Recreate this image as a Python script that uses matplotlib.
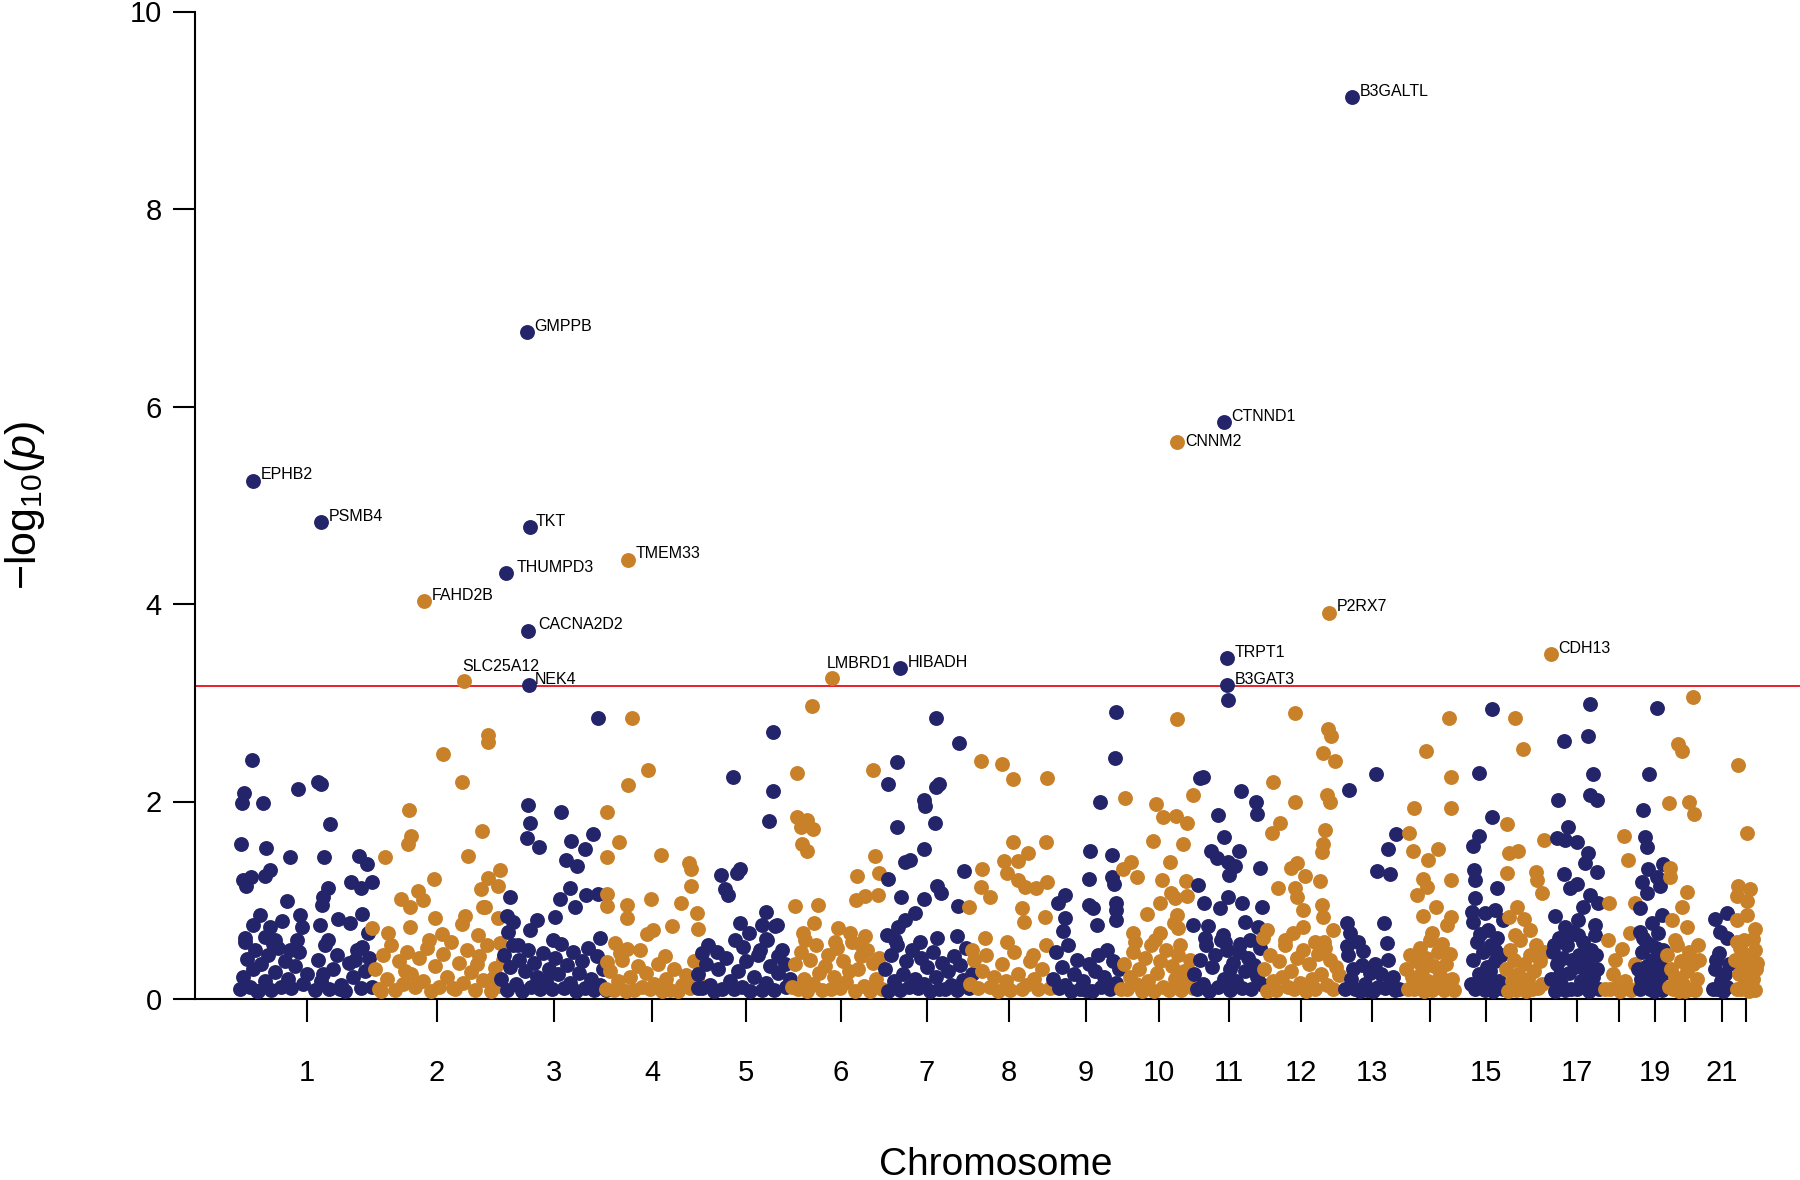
import matplotlib
matplotlib.use("Agg")
import matplotlib.pyplot as plt

plt.rcParams["font.family"] = ["Liberation Sans", "DejaVu Sans"]
plt.rcParams["mathtext.fontset"] = "custom"
plt.rcParams["mathtext.rm"] = "Liberation Sans"
plt.rcParams["mathtext.it"] = "Liberation Sans:italic"

NAVY = "#24246A"
ORANGE = "#C98129"

# ---- data: (cumulative position, -log10 p) per chromosome ----
c1 = [(57, 2.42), (49, 2.09), (47, 1.98), (68, 1.98), (103, 2.13), (123, 2.20), (126, 2.18), (135, 1.77),
      (46, 1.57), (71, 1.53), (95, 1.44), (129, 1.44), (164, 1.45), (172, 1.37), (75, 1.31), (70, 1.25),
      (56, 1.24), (48, 1.21), (51, 1.14), (156, 1.18), (166, 1.12), (177, 1.18), (133, 1.12), (128, 1.03),
      (127, 0.95), (92, 0.99), (65, 0.85), (87, 0.79), (105, 0.85), (107, 0.73), (143, 0.81), (167, 0.86),
      (155, 0.77), (125, 0.75), (75, 0.73), (58, 0.75), (50, 0.62), (70, 0.63), (80, 0.60), (102, 0.60),
      (133, 0.60), (173, 0.67), (167, 0.53),
      (45, 0.10), (48, 0.22), (52, 0.41), (55, 0.12), (58, 0.30), (60, 0.50), (63, 0.08), (66, 0.35),
      (70, 0.18), (73, 0.45), (76, 0.09), (80, 0.27), (83, 0.52), (86, 0.12), (90, 0.38), (93, 0.20),
      (96, 0.11), (100, 0.33), (104, 0.48), (108, 0.15), (112, 0.25), (120, 0.09), (123, 0.40), (126, 0.18),
      (130, 0.55), (134, 0.10), (138, 0.30), (142, 0.45), (146, 0.14), (150, 0.08), (154, 0.36), (158, 0.22),
      (162, 0.50), (166, 0.11), (170, 0.28), (174, 0.42), (177, 0.12), (50, 0.58), (62, 0.08), (78, 0.56),
      (95, 0.50), (128, 0.25), (145, 0.10), (160, 0.40)]
c2 = [(293, 2.67), (293, 2.60), (248, 2.48), (267, 2.20), (214, 1.91), (216, 1.65), (213, 1.57), (287, 1.70),
      (190, 1.44), (273, 1.45), (239, 1.22), (293, 1.23), (286, 1.11), (223, 1.09), (206, 1.01), (228, 1.00),
      (215, 0.93), (288, 0.93), (240, 0.82), (270, 0.84), (267, 0.76), (177, 0.72), (215, 0.73), (247, 0.66),
      (193, 0.67), (283, 0.65), (305, 1.31), (303, 1.14), (290, 0.93), (303, 0.82), (305, 0.57),
      (180, 0.30), (184, 0.10), (188, 0.45), (192, 0.20), (196, 0.55), (200, 0.09), (204, 0.38), (208, 0.15),
      (212, 0.48), (216, 0.25), (220, 0.12), (224, 0.42), (228, 0.18), (232, 0.52), (236, 0.08), (240, 0.33),
      (244, 0.12), (248, 0.46), (252, 0.22), (256, 0.58), (260, 0.10), (264, 0.36), (268, 0.16), (272, 0.50),
      (276, 0.27), (280, 0.09), (284, 0.44), (288, 0.19), (292, 0.55), (296, 0.08), (300, 0.31), (304, 0.13),
      (308, 0.40), (186, 0.08), (210, 0.28), (234, 0.60), (258, 0.11), (282, 0.35), (298, 0.21)]
c3 = [(403, 2.85), (333, 1.96), (335, 1.78), (332, 1.63), (344, 1.54), (366, 1.89), (398, 1.67), (376, 1.60),
      (390, 1.52), (371, 1.41), (382, 1.35), (375, 1.12), (365, 1.01), (380, 0.93), (391, 1.05), (403, 1.06),
      (315, 1.03), (312, 0.84), (318, 0.78), (342, 0.80), (360, 0.83), (313, 0.68), (335, 0.70), (405, 0.62),
      (323, 0.55), (358, 0.60),
      (306, 0.20), (309, 0.45), (312, 0.09), (315, 0.32), (318, 0.55), (321, 0.15), (324, 0.40), (327, 0.08),
      (330, 0.28), (333, 0.50), (336, 0.12), (339, 0.36), (342, 0.22), (345, 0.10), (348, 0.47), (351, 0.18),
      (354, 0.30), (357, 0.10), (360, 0.42), (363, 0.25), (366, 0.56), (369, 0.11), (372, 0.34), (375, 0.16),
      (378, 0.48), (381, 0.08), (384, 0.26), (387, 0.38), (390, 0.11), (393, 0.52), (396, 0.20), (399, 0.09),
      (402, 0.44), (405, 0.14), (408, 0.30), (411, 0.09)]
c4 = [(437, 2.85), (453, 2.32), (433, 2.17), (412, 1.89), (424, 1.59), (412, 1.44), (466, 1.46), (494, 1.38),
      (496, 1.32), (496, 1.14), (412, 1.06), (412, 0.94), (432, 0.95), (432, 0.82), (456, 1.01), (486, 0.97),
      (502, 0.87), (503, 0.71), (477, 0.74), (452, 0.66), (458, 0.70), (420, 0.57), (432, 0.51), (412, 0.37),
      (470, 0.44),
      (411, 0.10), (415, 0.28), (419, 0.09), (423, 0.18), (427, 0.40), (431, 0.08), (435, 0.22), (439, 0.09),
      (443, 0.33), (447, 0.12), (451, 0.26), (455, 0.10), (459, 0.15), (463, 0.35), (467, 0.08), (471, 0.20),
      (475, 0.09), (479, 0.30), (483, 0.08), (487, 0.14), (491, 0.24), (495, 0.11), (499, 0.38), (503, 0.17),
      (425, 0.47), (445, 0.50)]
c5 = [(578, 2.70), (538, 2.25), (578, 2.11), (574, 1.80), (526, 1.26), (542, 1.28), (545, 1.32), (530, 1.11),
      (533, 1.05), (571, 0.88), (545, 0.77), (567, 0.75), (580, 0.74), (554, 0.67), (571, 0.61), (507, 0.47),
      (522, 0.48), (548, 0.53), (503, 0.11), (582, 0.75), (572, 0.60), (583, 0.44),
      (503, 0.25), (507, 0.11), (511, 0.35), (515, 0.14), (519, 0.08), (523, 0.30), (527, 0.10), (531, 0.42),
      (535, 0.18), (539, 0.10), (543, 0.28), (547, 0.12), (551, 0.38), (555, 0.08), (559, 0.22), (563, 0.45),
      (567, 0.09), (571, 0.16), (575, 0.33), (579, 0.09), (583, 0.26), (587, 0.50), (591, 0.12), (595, 0.20),
      (513, 0.55), (540, 0.60), (565, 0.50), (590, 0.35)]
c6 = [(617, 2.97), (602, 2.29), (602, 1.84), (612, 1.81), (606, 1.74), (618, 1.72), (607, 1.57), (612, 1.50),
      (678, 2.32), (680, 1.45), (684, 1.28), (662, 1.25), (661, 1.00), (670, 1.04), (683, 1.05), (600, 0.94),
      (623, 0.95), (619, 0.77), (608, 0.67), (643, 0.72), (655, 0.67), (670, 0.64),
      (597, 0.12), (600, 0.35), (603, 0.10), (606, 0.48), (609, 0.20), (612, 0.08), (615, 0.40), (618, 0.15),
      (621, 0.55), (624, 0.26), (627, 0.09), (630, 0.33), (633, 0.45), (636, 0.10), (639, 0.22), (642, 0.52),
      (645, 0.11), (648, 0.38), (651, 0.17), (654, 0.28), (657, 0.58), (660, 0.08), (663, 0.30), (666, 0.44),
      (669, 0.13), (672, 0.50), (675, 0.08), (678, 0.36), (681, 0.20), (684, 0.42), (687, 0.10),
      (610, 0.60), (640, 0.58), (665, 0.56)]
c7 = [(741, 2.85), (702, 2.40), (764, 2.59), (693, 2.18), (744, 2.18), (741, 2.15), (729, 2.02), (730, 1.95),
      (740, 1.78), (702, 1.74), (729, 1.52), (710, 1.39), (715, 1.41), (693, 1.22), (742, 1.14), (746, 1.07),
      (706, 1.03), (729, 1.01), (769, 1.30), (763, 0.94), (720, 0.87), (710, 0.80), (703, 0.73), (692, 0.65),
      (742, 0.62), (762, 0.64),
      (690, 0.30), (693, 0.08), (696, 0.45), (699, 0.18), (702, 0.55), (705, 0.09), (708, 0.25), (711, 0.38),
      (714, 0.12), (717, 0.50), (720, 0.20), (723, 0.11), (726, 0.42), (729, 0.15), (732, 0.32), (735, 0.08),
      (738, 0.48), (741, 0.22), (744, 0.10), (747, 0.36), (750, 0.10), (753, 0.28), (756, 0.14), (759, 0.44),
      (762, 0.09), (765, 0.34), (768, 0.19), (771, 0.52), (774, 0.11), (777, 0.25), (700, 0.60), (725, 0.58)]
c8 = [(786, 2.41), (807, 2.38), (818, 2.23), (852, 2.24), (818, 1.59), (851, 1.59), (833, 1.48), (823, 1.40),
      (809, 1.40), (787, 1.32), (812, 1.28), (823, 1.21), (830, 1.13), (841, 1.12), (852, 1.18), (786, 1.13),
      (795, 1.03), (774, 0.93), (827, 0.92), (829, 0.78), (850, 0.83), (777, 0.50),
      (775, 0.15), (779, 0.40), (783, 0.11), (787, 0.28), (791, 0.45), (795, 0.12), (799, 0.22), (803, 0.08),
      (807, 0.35), (811, 0.18), (815, 0.09), (819, 0.48), (823, 0.25), (827, 0.10), (831, 0.14), (835, 0.38),
      (839, 0.20), (843, 0.10), (847, 0.30), (851, 0.55), (855, 0.11), (790, 0.62), (812, 0.58), (838, 0.45)]
c9 = [(921, 2.91), (920, 2.44), (905, 2.00), (895, 1.50), (917, 1.46), (894, 1.22), (917, 1.24), (919, 1.16),
      (870, 1.05), (863, 0.97), (894, 0.95), (898, 0.92), (921, 0.97), (921, 0.90), (921, 0.80), (870, 0.82),
      (902, 0.75), (868, 0.69),
      (858, 0.20), (861, 0.48), (864, 0.11), (867, 0.32), (870, 0.14), (873, 0.55), (876, 0.08), (879, 0.25),
      (882, 0.40), (885, 0.10), (888, 0.18), (891, 0.09), (894, 0.35), (897, 0.08), (900, 0.28), (903, 0.45),
      (906, 0.12), (909, 0.22), (912, 0.50), (915, 0.10), (918, 0.38), (921, 0.16), (924, 0.30)]
c10 = [(982, 2.84), (930, 2.04), (998, 2.07), (961, 1.97), (968, 1.84), (981, 1.85), (992, 1.78), (958, 1.60),
       (988, 1.57), (936, 1.39), (928, 1.32), (975, 1.39), (942, 1.24), (967, 1.21), (991, 1.19), (976, 1.07),
       (980, 1.02), (965, 0.97), (992, 1.04), (952, 0.86), (982, 0.85), (979, 0.77), (938, 0.67), (965, 0.67),
       (983, 0.72),
       (926, 0.10), (929, 0.35), (932, 0.10), (935, 0.22), (938, 0.48), (941, 0.15), (944, 0.30), (947, 0.08),
       (950, 0.42), (953, 0.18), (956, 0.55), (959, 0.08), (962, 0.26), (965, 0.38), (968, 0.12), (971, 0.50),
       (974, 0.09), (977, 0.33), (980, 0.20), (983, 0.45), (986, 0.09), (989, 0.28), (992, 0.16), (995, 0.40),
       (998, 0.11), (940, 0.58), (960, 0.60), (985, 0.55)]
c11 = [(1033, 3.03), (1005, 2.24), (1008, 2.25), (1046, 2.11), (1061, 1.99), (1062, 1.87), (1023, 1.86),
       (1029, 1.64), (1044, 1.50), (1016, 1.50), (1022, 1.43), (1033, 1.39), (1040, 1.35), (1065, 1.33),
       (1034, 1.26), (1003, 1.15), (1009, 0.97), (1033, 1.03), (1047, 0.97), (1067, 0.93), (1025, 0.92),
       (1050, 0.78), (998, 0.75), (1013, 0.74), (1063, 0.73), (1028, 0.65),
       (999, 0.25), (1002, 0.10), (1005, 0.40), (1008, 0.15), (1011, 0.55), (1014, 0.08), (1017, 0.32),
       (1020, 0.45), (1023, 0.12), (1026, 0.60), (1029, 0.20), (1032, 0.50), (1035, 0.09), (1038, 0.36),
       (1041, 0.18), (1044, 0.48), (1047, 0.11), (1050, 0.28), (1053, 0.42), (1056, 0.10), (1059, 0.34),
       (1062, 0.22), (1065, 0.52), (1068, 0.14), (1010, 0.62), (1030, 0.58), (1035, 0.30), (1045, 0.56),
       (1055, 0.60)]
c12 = [(1100, 2.90), (1133, 2.73), (1136, 2.66), (1128, 2.49), (1140, 2.41), (1078, 2.20), (1132, 2.07),
       (1135, 2.00), (1100, 1.99), (1085, 1.78), (1077, 1.68), (1130, 1.71), (1128, 1.57), (1127, 1.49),
       (1102, 1.38), (1096, 1.33), (1110, 1.25), (1083, 1.12), (1100, 1.12), (1125, 1.19), (1102, 1.03),
       (1127, 0.95), (1128, 0.83), (1108, 0.90), (1072, 0.70), (1068, 0.62), (1098, 0.67), (1108, 0.73),
       (1138, 0.70),
       (1069, 0.30), (1072, 0.08), (1075, 0.45), (1078, 0.18), (1081, 0.09), (1084, 0.38), (1087, 0.22),
       (1090, 0.55), (1093, 0.12), (1096, 0.28), (1099, 0.10), (1102, 0.42), (1105, 0.16), (1108, 0.50),
       (1111, 0.08), (1114, 0.35), (1117, 0.20), (1120, 0.10), (1123, 0.46), (1126, 0.25), (1129, 0.58),
       (1132, 0.14), (1135, 0.40), (1138, 0.10), (1141, 0.32), (1144, 0.24), (1090, 0.60), (1120, 0.58),
       (1130, 0.52)]
c13 = [(1181, 2.28), (1154, 2.12), (1201, 1.67), (1193, 1.52), (1182, 1.30), (1195, 1.27), (1152, 0.77),
       (1189, 0.77), (1155, 0.67), (1163, 0.58), (1152, 0.54), (1192, 0.57), (1168, 0.49), (1153, 0.45),
       (1167, 0.34), (1193, 0.40), (1175, 0.26),
       (1150, 0.10), (1156, 0.20), (1160, 0.10), (1165, 0.08), (1170, 0.15), (1172, 0.09), (1178, 0.08),
       (1183, 0.12), (1186, 0.25), (1190, 0.11), (1196, 0.18), (1200, 0.09), (1204, 0.10), (1158, 0.30),
       (1180, 0.35), (1198, 0.22)]
c14 = [(1254, 2.85), (1231, 2.51), (1256, 2.25), (1219, 1.93), (1256, 1.93), (1214, 1.68), (1218, 1.50),
       (1243, 1.52), (1233, 1.41), (1228, 1.22), (1256, 1.21), (1222, 1.05), (1232, 1.13), (1241, 0.93),
       (1228, 0.84), (1256, 0.83), (1252, 0.75), (1237, 0.67),
       (1211, 0.30), (1213, 0.10), (1215, 0.45), (1217, 0.22), (1219, 0.10), (1221, 0.38), (1223, 0.15),
       (1225, 0.52), (1227, 0.28), (1229, 0.08), (1231, 0.42), (1233, 0.18), (1235, 0.60), (1237, 0.09),
       (1239, 0.33), (1241, 0.12), (1243, 0.48), (1245, 0.24), (1247, 0.56), (1249, 0.09), (1251, 0.35),
       (1253, 0.14), (1255, 0.46), (1257, 0.20), (1259, 0.09)]
c15 = [(1297, 2.94), (1284, 2.29), (1297, 1.84), (1284, 1.65), (1278, 1.55), (1279, 1.31), (1280, 1.21),
       (1302, 1.12), (1280, 1.02), (1277, 0.88), (1290, 0.87), (1300, 0.90), (1278, 0.78), (1293, 0.70),
       (1308, 0.80),
       (1276, 0.15), (1278, 0.40), (1280, 0.10), (1282, 0.58), (1284, 0.25), (1286, 0.12), (1288, 0.48),
       (1290, 0.09), (1292, 0.32), (1294, 0.20), (1296, 0.55), (1298, 0.08), (1300, 0.38), (1302, 0.62),
       (1304, 0.18), (1306, 0.45), (1308, 0.10), (1285, 0.66), (1295, 0.28), (1300, 0.50)]
c16 = [(1320, 2.85), (1328, 2.53), (1312, 1.77), (1314, 1.48), (1323, 1.50), (1312, 1.28), (1341, 1.29),
       (1342, 1.21), (1347, 1.07), (1322, 0.93), (1314, 0.83), (1329, 0.81), (1349, 1.61),
       (1311, 0.30), (1313, 0.08), (1315, 0.50), (1317, 0.18), (1319, 0.40), (1321, 0.09), (1323, 0.25),
       (1325, 0.60), (1327, 0.12), (1329, 0.35), (1331, 0.08), (1333, 0.20), (1335, 0.45), (1337, 0.10),
       (1339, 0.28), (1341, 0.55), (1343, 0.11), (1345, 0.38), (1347, 0.15), (1349, 0.48), (1320, 0.65),
       (1335, 0.70)]
c17 = [(1395, 2.99), (1369, 2.61), (1393, 2.66), (1398, 2.28), (1363, 2.02), (1395, 2.07), (1402, 2.02),
       (1373, 1.74), (1362, 1.63), (1370, 1.61), (1382, 1.59), (1393, 1.48), (1390, 1.38), (1369, 1.27),
       (1402, 1.29), (1382, 1.16), (1375, 1.12), (1395, 1.05), (1403, 0.97), (1388, 0.93), (1360, 0.84),
       (1383, 0.80), (1370, 0.73), (1400, 0.75),
       (1356, 0.20), (1358, 0.48), (1360, 0.08), (1362, 0.35), (1364, 0.62), (1366, 0.15), (1368, 0.42),
       (1370, 0.09), (1372, 0.55), (1374, 0.26), (1376, 0.10), (1378, 0.68), (1380, 0.32), (1382, 0.10),
       (1384, 0.45), (1386, 0.18), (1388, 0.58), (1390, 0.12), (1392, 0.38), (1394, 0.08), (1396, 0.50),
       (1398, 0.22), (1400, 0.65), (1402, 0.30), (1404, 0.10), (1359, 0.55), (1365, 0.25), (1371, 0.60),
       (1377, 0.40), (1383, 0.65), (1389, 0.30), (1395, 0.15), (1401, 0.45)]
c18 = [(1429, 1.65), (1433, 1.41), (1414, 0.97), (1413, 0.60), (1427, 0.51), (1440, 0.97), (1435, 0.67),
       (1410, 0.10), (1415, 0.10), (1418, 0.25), (1422, 0.12), (1425, 0.08), (1430, 0.18), (1436, 0.09),
       (1440, 0.35), (1443, 0.11), (1420, 0.40)]
c19 = [(1462, 2.95), (1454, 2.28), (1448, 1.91), (1450, 1.64), (1452, 1.54), (1453, 1.32), (1468, 1.37),
       (1447, 1.18), (1462, 1.24), (1452, 1.07), (1465, 1.14), (1445, 0.92), (1467, 0.85), (1457, 0.77),
       (1445, 0.68), (1463, 0.67),
       (1443, 0.30), (1445, 0.10), (1447, 0.48), (1449, 0.15), (1451, 0.58), (1453, 0.22), (1455, 0.10),
       (1457, 0.40), (1459, 0.08), (1461, 0.52), (1463, 0.18), (1465, 0.35), (1467, 0.09), (1469, 0.26),
       (1448, 0.62), (1452, 0.33), (1456, 0.55), (1460, 0.12), (1464, 0.45), (1468, 0.50), (1446, 0.20),
       (1458, 0.28)]
c20 = [(1498, 3.06), (1483, 2.58), (1487, 2.51), (1474, 1.98), (1494, 1.99), (1499, 1.87), (1475, 1.33),
       (1475, 1.24), (1492, 1.08), (1487, 0.93), (1477, 0.80), (1492, 0.73), (1503, 0.55),
       (1472, 0.45), (1474, 0.12), (1476, 0.30), (1478, 0.10), (1480, 0.22), (1482, 0.55), (1484, 0.08),
       (1486, 0.38), (1488, 0.15), (1490, 0.08), (1492, 0.28), (1494, 0.48), (1496, 0.10), (1498, 0.35),
       (1500, 0.09), (1502, 0.20), (1504, 0.40), (1480, 0.60)]
c21 = [(1532, 0.87), (1520, 0.81), (1525, 0.68), (1532, 0.62),
       (1518, 0.10), (1520, 0.30), (1522, 0.10), (1524, 0.47), (1526, 0.18), (1528, 0.08), (1530, 0.25),
       (1532, 0.12), (1534, 0.35), (1521, 0.40)]
c22 = [(1543, 2.37), (1552, 1.68), (1543, 1.14), (1555, 1.11), (1542, 1.04), (1552, 0.99), (1552, 0.85),
       (1542, 0.80), (1560, 0.71), (1558, 0.61), (1542, 0.58), (1560, 0.50),
       (1540, 0.40), (1542, 0.10), (1544, 0.25), (1546, 0.10), (1548, 0.33), (1550, 0.15), (1552, 0.45),
       (1554, 0.08), (1556, 0.28), (1558, 0.20), (1560, 0.09), (1562, 0.36), (1545, 0.52), (1555, 0.42),
       (1549, 0.60), (1561, 0.30)]

chromosomes = [c1, c2, c3, c4, c5, c6, c7, c8, c9, c10, c11,
               c12, c13, c14, c15, c16, c17, c18, c19, c20, c21, c22]

chrom_ticks = [112, 242, 359, 457, 551, 646, 732, 814, 891, 964, 1034,
               1106, 1177, 1235, 1291, 1336, 1382, 1424, 1460, 1490, 1527, 1551]
chrom_labels = ["1", "2", "3", "4", "5", "6", "7", "8", "9", "10", "11",
                "12", "13", "", "15", "", "17", "", "19", "", "21", ""]

gene_names = ["EPHB2", "PSMB4", "FAHD2B", "SLC25A12", "THUMPD3", "GMPPB", "TKT", "CACNA2D2",
              "NEK4", "TMEM33", "LMBRD1", "HIBADH", "CNNM2", "CTNND1", "TRPT1", "B3GAT3",
              "P2RX7", "B3GALTL", "CDH13"]
gene_chrom = [1, 1, 2, 2, 3, 3, 3, 3, 3, 4, 6, 7, 10, 11, 11, 11, 12, 13, 16]
gene_pos = [58, 126, 229, 269, 311, 332, 335, 333, 334, 433, 637, 705, 982, 1029, 1032, 1032,
            1134, 1157, 1356]
gene_logp = [5.25, 4.83, 4.03, 3.22, 4.31, 6.75, 4.78, 3.73, 3.18, 4.45, 3.25, 3.35, 5.64, 5.84,
             3.45, 3.18, 3.91, 9.13, 3.49]

threshold = 3.17

# label offsets in points (layout only)
label_offset = {"SLC25A12": (-1.5, 7), "LMBRD1": (-4, 7), "THUMPD3": (7.5, 1),
                "CACNA2D2": (7.5, 1), "CNNM2": (6, -2.5), "TKT": (4, 1), "NEK4": (4.5, 1)}

# ---- figure ----
W, H = 1800, 1180
fig = plt.figure(figsize=(W / 100, H / 100), dpi=100)
ax = fig.add_axes([195 / W, (H - 999) / H, 1 - 195 / W, (999 - 11.5) / H])
ax.set_xlim(0, 1605)
ax.set_ylim(0, 10)

S = 115
for i, pts in enumerate(chromosomes):
    col = NAVY if i % 2 == 0 else ORANGE
    xs = [p[0] for p in pts]
    ys = [p[1] for p in pts]
    ax.scatter(xs, ys, s=S, c=col, linewidths=0, zorder=3, clip_on=False)

for name, ch, x, y in zip(gene_names, gene_chrom, gene_pos, gene_logp):
    col = NAVY if ch % 2 == 1 else ORANGE
    ax.scatter([x], [y], s=S, c=col, linewidths=0, zorder=3, clip_on=False)
    dx, dy = label_offset.get(name, (5.5, 1))
    ax.annotate(name, (x, y), xytext=(dx, dy), textcoords="offset points",
                ha="left", va="baseline", fontsize=11.5, color="black", zorder=4)

ax.axhline(threshold, color="#E8202A", lw=1.4, zorder=2)

for s in ["top", "right"]:
    ax.spines[s].set_visible(False)
ax.spines["left"].set_bounds(0, 10)
ax.spines["bottom"].set_bounds(0, chrom_ticks[-1])
ax.spines["left"].set_linewidth(1.5)
ax.spines["bottom"].set_linewidth(1.5)

ax.set_yticks([0, 2, 4, 6, 8, 10])
ax.tick_params(axis="y", length=16, width=1.5, labelsize=21, pad=8)
ax.set_xticks(chrom_ticks)
ax.set_xticklabels(chrom_labels)
ax.tick_params(axis="x", length=16.5, width=1.5, labelsize=21, pad=27)

fig.text(996 / W, 1 - 1165 / H, "Chromosome", ha="center", va="center", fontsize=28)
fig.text(25 / W, 1 - 505 / H, r"$-\mathrm{log}_{10}(\mathit{p})$", rotation=90,
         ha="center", va="center", fontsize=31)

fig.savefig("out.png", dpi=100)
